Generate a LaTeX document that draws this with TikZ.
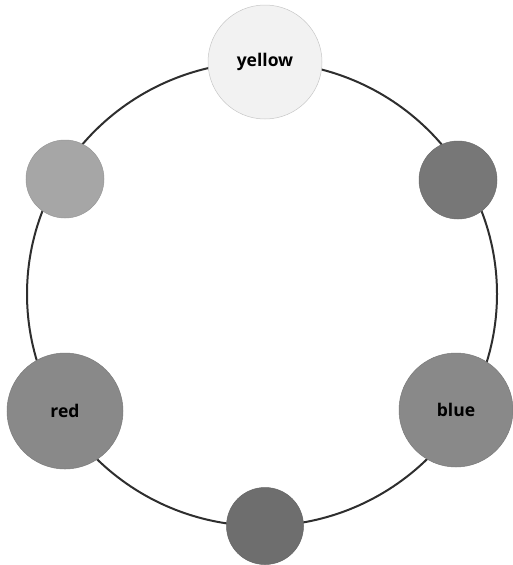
\documentclass[tikz,border=0pt]{standalone}
\usepackage{fontspec}
\setmainfont{Open Sans}
\begin{document}
\begin{tikzpicture}[x=1pt,y=-1pt,
  dot/.style={circle,inner sep=0pt,draw=#1!90!black,fill=#1,line width=0.5pt},
  lbl/.style={font=\bfseries\fontsize{17.5}{20}\selectfont,text=black}]
\definecolor{cYel}{HTML}{F2F2F2}
\definecolor{cTL}{HTML}{A6A6A6}
\definecolor{cTR}{HTML}{777777}
\definecolor{cMid}{HTML}{898989}
\definecolor{cBot}{HTML}{6E6E6E}
\definecolor{ring}{HTML}{2E2E2E}
\useasboundingbox (0,0) rectangle (512,565);
\coordinate (c) at (262,294);
\draw[ring,line width=2pt] (c) ellipse [x radius=235,y radius=232];
\node[dot=cYel,draw=black!22,minimum size=114pt,lbl] (yellow) at (265,62) {yellow};
\node[dot=cTL,minimum size=78pt] (tl) at (65,179) {};
\node[dot=cTR,minimum size=78pt] (tr) at (458,180) {};
\node[dot=cMid,minimum size=116pt,lbl] (red) at (65,411) {red};
\node[dot=cMid,minimum size=114pt,lbl] (blue) at (456,410) {blue};
\node[dot=cBot,minimum size=77pt] (bot) at (265,526) {};
\end{tikzpicture}
\end{document}
